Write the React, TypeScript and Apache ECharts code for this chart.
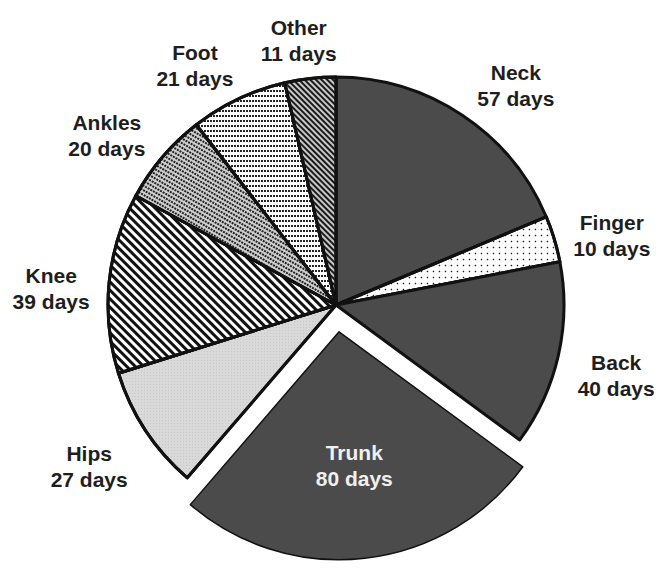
import React, { useEffect, useRef } from "react";
import * as echarts from "echarts";

const categories = ["Neck", "Finger", "Back", "Trunk", "Hips", "Knee", "Ankles", "Foot", "Other"];
const days = [57, 10, 40, 80, 27, 39, 20, 21, 11];
const explodedCategory = "Trunk";

const DARK = "#4b4b4b";

const sliceStyles: Record<string, any> = {
  Neck: { color: DARK },
  Finger: {
    color: "#ffffff",
    decal: { symbol: "circle", symbolSize: 0.5, dashArrayX: [3, 3], dashArrayY: [3, 3], color: "#222" },
  },
  Back: { color: DARK },
  Trunk: { color: DARK, borderWidth: 1.5 },
  Hips: {
    color: "#d9d9d9",
    decal: { symbol: "rect", symbolSize: 0.6, dashArrayX: [1, 2], dashArrayY: [1, 2], color: "rgba(0,0,0,0.25)" },
  },
  Knee: {
    color: "#ffffff",
    decal: { symbol: "rect", symbolSize: 1, dashArrayX: [1, 0], dashArrayY: [2.5, 2.5], rotation: Math.PI / 4, color: "#111" },
  },
  Ankles: {
    color: "#cfcfcf",
    decal: { symbol: "rect", symbolSize: 1, dashArrayX: [2, 1], dashArrayY: [1.5, 1.5], rotation: Math.PI / 6, color: "#222" },
  },
  Foot: {
    color: "#ffffff",
    decal: { symbol: "rect", symbolSize: 1, dashArrayX: [2, 1], dashArrayY: [1.5, 3], rotation: 0, color: "#222" },
  },
  Other: {
    color: "#c8c8c8",
    decal: { symbol: "rect", symbolSize: 1, dashArrayX: [1, 0], dashArrayY: [2, 1.2], rotation: Math.PI / 4, color: "#1a1a1a" },
  },
};

export default function App() {
  const ref = useRef<HTMLDivElement>(null);

  useEffect(() => {
    document.body.style.margin = "0";
    if (!ref.current) return;
    const chart = echarts.init(ref.current, undefined, { renderer: "svg" });

    const cx = 336;
    const cy = 305;
    const R = 228;
    const offset = 27;
    // outside-label layout constants
    const gap = 10;
    const labelCy = 315;
    const hw = 48;
    const hh = 30.6;
    const kx = 1.9;
    const ky = 1.25;

    const total = days.reduce((a, b) => a + b, 0);
    const mids: number[] = [];
    let acc = 0;
    days.forEach((d) => {
      mids.push(((acc + d / 2) / total) * 2 * Math.PI);
      acc += d;
    });

    const data = categories.map((name, i) => {
      const st = sliceStyles[name] || {};
      const item: any = {
        name,
        value: days[i],
        itemStyle: {
          color: st.color,
          borderColor: "#111",
          borderWidth: st.borderWidth ?? 3,
          decal: st.decal,
        },
      };
      if (name === explodedCategory) item.selected = true;
      return item;
    });

    const clamp = (v: number) => Math.max(-1, Math.min(1, v));

    const labels = categories.map((name, i) => {
      const a = mids[i];
      const s = Math.sin(a);
      const c = Math.cos(a);
      let x: number, y: number, fill = "#1e1e1e";
      if (name === explodedCategory) {
        const d = 0.59 * R + offset;
        x = cx + d * s;
        y = cy - d * c;
        fill = "#f0f0f0";
      } else {
        x = cx + (R + gap) * s + hw * clamp(s * kx);
        y = labelCy - (R + gap) * c - hh * c * ky;
      }
      return {
        type: "text",
        x,
        y,
        silent: true,
        z: 100,
        style: {
          text: `${name}\n${days[i]} days`,
          fontFamily: "Liberation Sans, Arial, sans-serif",
          fontWeight: "bold",
          fontSize: 21,
          lineHeight: 26,
          fill,
          align: "center",
          verticalAlign: "middle",
        },
      };
    });

    chart.setOption({
      animation: false,
      backgroundColor: "#ffffff",
      graphic: labels,
      series: [
        {
          type: "pie",
          center: [cx, cy],
          radius: R,
          startAngle: 90,
          clockwise: true,
          selectedMode: "single",
          selectedOffset: offset,
          silent: true,
          emphasis: { disabled: true },
          label: { show: false },
          labelLine: { show: false },
          data,
        },
      ],
    });

    return () => chart.dispose();
  }, []);

  return <div ref={ref} style={{ width: 660, height: 571 }} />;
}
